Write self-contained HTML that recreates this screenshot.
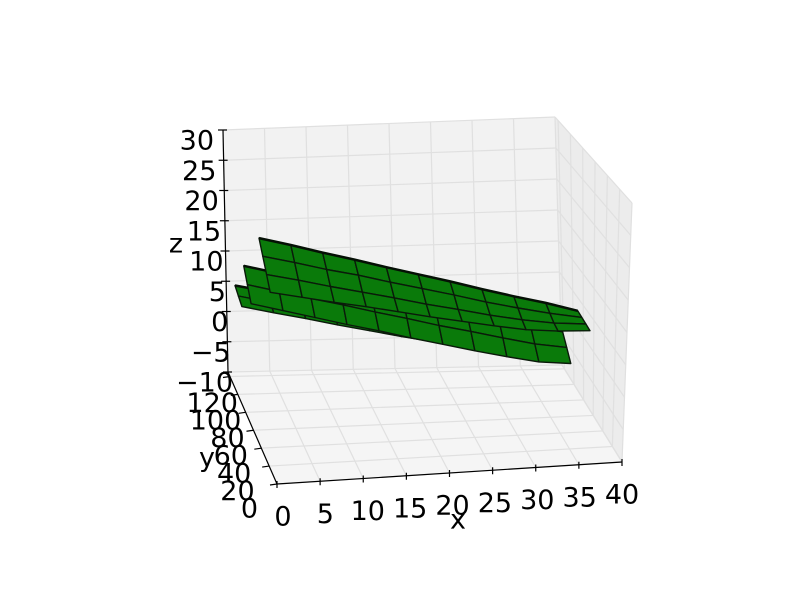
<!DOCTYPE html>
<html><head><meta charset="utf-8"><style>
html,body{margin:0;padding:0;background:#fff;}
svg{display:block;font-family:"DejaVu Sans","Liberation Sans",sans-serif;}
</style></head><body>
<svg id="chart" width="800" height="600" viewBox="0 0 800 600">
<g id="panes"></g>
<g id="surf"></g>
<g id="axes"></g>
</svg>
<script>
const xTicks=[0,5,10,15,20,25,30,35,40];
const yTicks=[0,20,40,60,80,100,120];
const zTicks=[-10,-5,0,5,10,15,20,25,30];
const xTickLabels=["0","5","10","15","20","25","30","35","40"];
const yTickLabels=["0","20","40","60","80","100","120"];
const zTickLabels=["\u221210","\u22125","0","5","10","15","20","25","30"];
// surface layers: x columns, y rows, z grid [row][col]
const layer3X=[1,4.8,8.6,12.4,16.2,20,23.8,27.6,31.4,35.2,39];
const layer3Y=[124,116,108];
const layer3Z=[
[4.4,3.3,2.3,1.2,0.2,-0.8,-1.8,-2.8,-3.8,-4.7,-5.4],
[3.8,2.6,1.5,0.4,-0.6,-1.7,-2.7,-3.7,-4.7,-5.7,-6.1],
[3.2,2,0.9,-0.3,-1.4,-2.5,-3.5,-4.6,-5.6,-6.6,-6.9]];
const layer2X=[2,5.8,9.6,13.4,17.2,21,24.8,28.6,32.4,36.2,40];
const layer2Y=[122,114,106];
const layer2Z=[
[7.9,6.6,5.4,4.1,2.9,1.6,0.4,-0.8,-2,-3.2,-4.2],
[5.9,4.6,3.3,2.1,0.8,-0.4,-1.7,-2.8,-4,-5.1,-5.8],
[3.9,2.6,1.3,0,-1.2,-2.5,-3.7,-4.9,-6,-7,-7.4]];
const layer1X=[4,7.8,11.6,15.4,19.2,23,26.8,30.6,34.4,38.2,42];
const layer1Y=[124,116,108,100];
const layer1Z=[
[12.1,10.8,9.4,8.1,6.7,5.4,4.1,2.7,1.4,0.2,-1.2],
[10.2,9,7.7,6.6,5.3,4.1,2.9,1.6,0.5,-0.5,-1.3],
[8.3,7.2,6,4.9,3.8,2.6,1.6,0.5,-0.4,-1.1,-1.4],
[6.5,5.5,4.5,3.6,2.6,1.6,0.7,-0.2,-1,-1.4,-1.5]];

const NS="http://www.w3.org/2000/svg";
const B00=[277,484],B10=[622,462],B01=[228,372],B11=[562,365];
const T00=[283,230],T10=[632,203],T01=[223,130],T11=[555,117];
function lerp(a,b,t){return [a[0]+(b[0]-a[0])*t,a[1]+(b[1]-a[1])*t];}
function P(x,y,z){
  const u=x/40,v=y/125,w=(z+10)/40;
  const b=lerp(lerp(B00,B10,u),lerp(B01,B11,u),v);
  const t=lerp(lerp(T00,T10,u),lerp(T01,T11,u),v);
  return lerp(b,t,w);
}
function el(tag,attrs,parent){const e=document.createElementNS(NS,tag);for(const k in attrs)e.setAttribute(k,attrs[k]);parent.appendChild(e);return e;}
function poly(pts){return pts.map(p=>p[0].toFixed(1)+","+p[1].toFixed(1)).join(" ");}
const panes=document.getElementById('panes');
let e;
e=el('polygon',{points:poly([P(0,125,-10),P(40,125,-10),P(40,125,30),P(0,125,30)]),fill:'#f2f2f2',stroke:'none'},panes);


e=el('polygon',{points:poly([P(40,0,-10),P(40,125,-10),P(40,125,30),P(40,0,30)]),fill:'#ececec',stroke:'none'},panes);


e=el('polygon',{points:poly([P(0,0,-10),P(40,0,-10),P(40,125,-10),P(0,125,-10)]),fill:'#f5f5f5',stroke:'none'},panes);


function gl(a,b){const l=el('line',{x1:a[0],y1:a[1],x2:b[0],y2:b[1],stroke:'#e0e0e0','stroke-width':1.2},panes);

}
xTicks.forEach(x=>{gl(P(x,125,-10),P(x,125,30));gl(P(x,0,-10),P(x,125,-10));});
zTicks.forEach(z=>{gl(P(0,125,z),P(40,125,z));gl(P(40,0,z),P(40,125,z));});
yTicks.forEach(y=>{gl(P(0,y,-10),P(40,y,-10));gl(P(40,y,-10),P(40,y,30));});
const surf=document.getElementById('surf');
function drawLayer(xs,ys,zs,name){
  for(let r=0;r<ys.length-1;r++){
    for(let c=0;c<xs.length-1;c++){
      const pts=[P(xs[c],ys[r],zs[r][c]),P(xs[c+1],ys[r],zs[r][c+1]),P(xs[c+1],ys[r+1],zs[r+1][c+1]),P(xs[c],ys[r+1],zs[r+1][c])];
      const q=el('polygon',{points:poly(pts),fill:'#0a7a0a',stroke:'#0a1a0a','stroke-width':1.4,'stroke-linejoin':'round'},surf);
      
      
    }
  }
  const top=ys.length? xs.map((x,c)=>P(x,ys[0],zs[0][c])):[];
  const edge=el('polyline',{points:poly(top),fill:'none',stroke:'#051005','stroke-width':2.5},surf);
  
  
}
drawLayer(layer3X,layer3Y,layer3Z,'layer3');
drawLayer(layer2X,layer2Y,layer2Z,'layer2');
drawLayer(layer1X,layer1Y,layer1Z,'layer1');
const axes=document.getElementById('axes');
function ln(a,b,name,w){const l=el('line',{x1:a[0],y1:a[1],x2:b[0],y2:b[1],stroke:'#000','stroke-width':w||1.2},axes);

}
ln(P(0,125,-10),P(0,125,30),'z-axis-line');
ln(P(0,0,-10),P(0,125,-10),'y-axis-line');
ln(P(0,0,-10),P(40,0,-10),'x-axis-line');
function txt(s,x,y,anchor,name,size){const t=el('text',{x:x,y:y,'text-anchor':anchor,'dominant-baseline':'central','font-size':size||27,fill:'#000'},axes);t.textContent=s;

}
zTicks.forEach((z,i)=>{const p=P(0,125,z);ln([p[0]-5,p[1]],[p[0]+4,p[1]],'z-tick');
  txt(zTickLabels[i],p[0]-9+14*(30-z)/40,p[1]+11,'end','z-tick-label');});
yTicks.forEach((y,i)=>{const p=P(0,y,-10);ln([p[0],p[1]],[p[0]-7,p[1]+1],'y-tick');
  txt(yTickLabels[i],p[0]-19+27*(y/120),p[1]+25+2*(y/120),'end','y-tick-label');});
xTicks.forEach((x,i)=>{const p=P(x,0,-10);ln([p[0],p[1]-3],[p[0],p[1]+4],'x-tick');
  txt(xTickLabels[i],p[0]+6-6*(x/40),p[1]+33,'middle','x-tick-label');});
txt('x',458,520,'middle','x-axis-title');
txt('y',207,458,'middle','y-axis-title');
txt('z',176,244,'middle','z-axis-title');
</script>
</body></html>
